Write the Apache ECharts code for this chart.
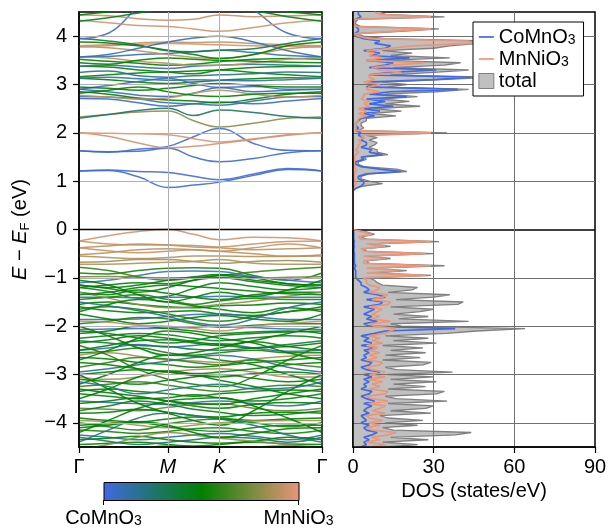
<!DOCTYPE html>
<html>
<head>
<meta charset="utf-8">
<script src="https://cdn.jsdelivr.net/npm/echarts@6/dist/echarts.min.js"></script>
<style>
html, body { margin: 0; padding: 0; background: #fff; }
#chart { width: 610px; height: 529px; }
</style>
</head>
<body>
<div id="chart"></div>
<script>
// k-path Γ–M–K–Γ of the hexagonal Brillouin zone (cumulative path length)
const kPath = [0, 0.19, 0.385, 0.577, 0.744, 0.911, 1.133, 1.355, 1.577];
const kTicks = [0, 0.577, 0.911, 1.577];
const kLabels = ['Γ', 'M', 'K', 'Γ'];
const energyTicks = [-4, -3, -2, -1, 0, 1, 2, 3, 4];
const dosTicks = [0, 30, 60, 90];

// projection weight of each band: 0 = CoMnO3 layer, 1 = MnNiO3 layer
const bandWeights = [
  0.02, 0.02, 0.03, 0.03, 0.97, 0.95, 0.8, 0.28, 0.08, 0.1,
  0.5, 0.1, 0.9, 0.5, 0.5, 0.12, 0.08, 0.48, 0.5, 0.15,
  0.5, 0.1, 0.9, 0.9, 0.95, 0.92, 0.5, 0.35, 0.05, 0.1,
  0.95, 0.92, 0.5, 0.45,
  0.95, 0.93, 0.9, 0.92, 0.9, 0.88, 0.85, 0.88, 0.55, 0.05,
  0.75, 0.6, 0.5, 0.45,
  0.5, 0.45, 0.1, 0.5, 0.55, 0.5, 0.8, 0.5, 0.1, 0.05,
  0.5, 0.55, 0.5, 0.45, 0.1, 0.5, 0.55, 0.85, 0.5, 0.2,
  0.5, 0.85, 0.5, 0.6, 0.5, 0.45, 0.15, 0.5, 0.7, 0.5,
  0.5, 0.85, 0.45, 0.55, 0.2, 0.5, 0.5, 0.6,
  0.5, 0.5, 0.45, 0.55, 0.5, 0.5, 0.25, 0.5, 0.8, 0.5,
  0.35, 0.5, 0.9, 0.2,
  0.5, 0.55, 0.45, 0.5, 0.5, 0.6, 0.5, 0.45, 0.55, 0.3,
  0.5, 0.2, 0.5, 0.2, 0.5
];

// band energies (eV) at the kPath points
const bandEnergies = [
  [1.21, 1.22, 1.09, 0.87, 0.92, 0.98, 1.12, 1.24, 1.21],
  [1.21, 1.23, 1.20, 1.18, 1.10, 1.03, 1.15, 1.26, 1.21],
  [1.63, 1.60, 1.66, 1.72, 1.92, 2.09, 1.78, 1.64, 1.63],
  [1.63, 1.61, 1.62, 1.68, 1.50, 1.40, 1.47, 1.59, 1.63],
  [2.00, 1.99, 1.98, 1.96, 1.88, 1.81, 1.88, 1.96, 2.00],
  [2.00, 1.93, 1.79, 1.69, 1.72, 1.78, 1.86, 1.95, 2.00],
  [2.33, 2.38, 2.43, 2.45, 2.25, 2.12, 2.20, 2.30, 2.33],
  [2.30, 2.38, 2.46, 2.51, 2.36, 2.47, 2.42, 2.34, 2.30],
  [2.71, 2.70, 2.62, 2.55, 2.60, 2.64, 2.60, 2.66, 2.71],
  [2.75, 2.74, 2.70, 2.62, 2.60, 2.57, 2.66, 2.74, 2.75],
  [2.85, 2.80, 2.72, 2.68, 2.66, 2.62, 2.70, 2.80, 2.85],
  [2.90, 2.85, 2.78, 2.75, 2.82, 2.94, 2.85, 2.88, 2.90],
  [2.78, 2.74, 2.70, 2.72, 2.82, 2.88, 2.80, 2.74, 2.78],
  [2.82, 2.88, 2.95, 2.85, 2.78, 2.75, 2.80, 2.82, 2.82],
  [3.13, 3.10, 3.05, 3.02, 3.05, 3.09, 3.12, 3.14, 3.13],
  [3.13, 3.15, 3.12, 3.09, 3.10, 3.09, 3.08, 3.10, 3.13],
  [2.90, 2.98, 3.06, 3.13, 3.02, 2.94, 2.96, 2.90, 2.90],
  [3.16, 3.20, 3.24, 3.26, 3.28, 3.30, 3.25, 3.20, 3.16],
  [3.38, 3.36, 3.30, 3.26, 3.22, 3.30, 3.35, 3.37, 3.38],
  [3.38, 3.40, 3.36, 3.33, 3.38, 3.40, 3.42, 3.40, 3.38],
  [3.52, 3.48, 3.44, 3.40, 3.42, 3.47, 3.52, 3.54, 3.52],
  [3.57, 3.58, 3.62, 3.64, 3.68, 3.71, 3.66, 3.60, 3.57],
  [3.57, 3.55, 3.48, 3.44, 3.40, 3.40, 3.45, 3.52, 3.57],
  [3.78, 3.76, 3.70, 3.62, 3.56, 3.54, 3.62, 3.74, 3.78],
  [3.78, 3.80, 3.83, 3.85, 3.84, 3.82, 3.80, 3.79, 3.78],
  [3.80, 3.82, 3.86, 3.88, 3.87, 3.88, 3.85, 3.82, 3.80],
  [3.88, 3.86, 3.80, 3.71, 3.62, 3.54, 3.62, 3.80, 3.88],
  [3.95, 3.90, 3.82, 3.70, 3.68, 3.71, 3.74, 3.85, 3.95],
  [3.95, 4.06, 4.60, 5.00, 5.00, 5.00, 4.55, 4.06, 3.95],
  [3.57, 3.62, 3.75, 3.88, 3.96, 4.00, 3.88, 3.70, 3.57],
  [4.33, 4.28, 4.22, 4.20, 4.15, 4.10, 4.18, 4.28, 4.33],
  [4.44, 4.42, 4.36, 4.33, 4.35, 4.44, 4.40, 4.42, 4.44],
  [4.44, 4.50, 4.55, 4.60, 4.60, 4.60, 4.55, 4.50, 4.44],
  [4.31, 4.38, 4.48, 4.55, 4.55, 4.55, 4.52, 4.40, 4.31],
  [-0.24, -0.13, -0.04, 0.00, -0.10, -0.21, -0.16, -0.17, -0.24],
  [-0.24, -0.30, -0.32, -0.32, -0.33, -0.36, -0.30, -0.25, -0.24],
  [-0.38, -0.34, -0.30, -0.32, -0.36, -0.38, -0.42, -0.40, -0.38],
  [-0.38, -0.44, -0.48, -0.45, -0.42, -0.45, -0.38, -0.30, -0.38],
  [-0.52, -0.48, -0.42, -0.40, -0.42, -0.45, -0.50, -0.55, -0.52],
  [-0.55, -0.58, -0.60, -0.58, -0.55, -0.55, -0.56, -0.56, -0.55],
  [-0.68, -0.66, -0.62, -0.62, -0.66, -0.70, -0.66, -0.64, -0.68],
  [-0.72, -0.72, -0.70, -0.68, -0.66, -0.62, -0.70, -0.72, -0.72],
  [-0.90, -0.92, -0.85, -0.80, -0.79, -0.80, -0.95, -1.05, -0.90],
  [-1.10, -1.05, -0.95, -0.87, -0.86, -0.87, -0.98, -1.05, -1.10],
  [-0.98, -0.97, -0.99, -1.00, -1.00, -1.00, -1.01, -0.99, -0.98],
  [-0.78, -0.85, -0.98, -1.05, -1.00, -0.95, -0.88, -0.82, -0.78],
  [-1.15, -1.20, -1.15, -1.05, -0.98, -0.93, -1.00, -1.12, -1.15],
  [-1.20, -1.15, -1.10, -1.12, -1.05, -1.00, -1.08, -1.16, -1.20],
  [-1.15, -1.22, -1.30, -1.20, -1.05, -0.95, -1.05, -1.12, -1.15],
  [-1.20, -1.28, -1.42, -1.38, -1.22, -1.10, -1.18, -1.25, -1.20],
  [-1.40, -1.40, -1.41, -1.40, -1.40, -1.38, -1.39, -1.40, -1.40],
  [-1.30, -1.35, -1.25, -1.32, -1.40, -1.45, -1.35, -1.30, -1.30],
  [-1.45, -1.40, -1.35, -1.45, -1.55, -1.48, -1.42, -1.45, -1.45],
  [-1.55, -1.50, -1.55, -1.60, -1.62, -1.58, -1.56, -1.52, -1.55],
  [-1.30, -1.42, -1.55, -1.62, -1.60, -1.55, -1.48, -1.38, -1.30],
  [-1.60, -1.68, -1.72, -1.70, -1.68, -1.75, -1.78, -1.70, -1.60],
  [-1.86, -1.86, -1.85, -1.80, -1.76, -1.75, -1.80, -1.86, -1.86],
  [-2.07, -2.06, -2.05, -2.04, -2.02, -2.00, -2.03, -2.06, -2.07],
  [-1.75, -1.85, -1.95, -1.90, -1.82, -1.78, -1.85, -1.90, -1.75],
  [-1.95, -1.90, -1.82, -1.85, -1.95, -2.02, -1.98, -1.95, -1.95],
  [-2.15, -2.10, -2.00, -2.05, -2.10, -2.15, -2.12, -2.10, -2.15],
  [-2.25, -2.20, -2.15, -2.18, -2.25, -2.30, -2.24, -2.20, -2.25],
  [-2.50, -2.45, -2.38, -2.43, -2.40, -2.36, -2.45, -2.52, -2.50],
  [-2.50, -2.40, -2.30, -2.28, -2.35, -2.40, -2.32, -2.42, -2.50],
  [-2.55, -2.52, -2.45, -2.55, -2.60, -2.55, -2.50, -2.55, -2.55],
  [-2.60, -2.55, -2.62, -2.70, -2.72, -2.75, -2.68, -2.62, -2.60],
  [-2.65, -2.68, -2.75, -2.80, -2.85, -2.82, -2.75, -2.70, -2.65],
  [-2.95, -2.88, -2.80, -2.72, -2.65, -2.60, -2.68, -2.85, -2.95],
  [-3.00, -2.95, -2.90, -2.95, -3.02, -3.05, -2.98, -2.95, -3.00],
  [-3.05, -3.10, -3.05, -2.95, -2.90, -2.88, -2.95, -3.05, -3.05],
  [-3.10, -3.15, -3.20, -3.12, -3.05, -3.00, -3.08, -3.15, -3.10],
  [-3.25, -3.20, -3.15, -3.22, -3.30, -3.35, -3.28, -3.22, -3.25],
  [-3.35, -3.30, -3.35, -3.40, -3.45, -3.40, -3.35, -3.32, -3.35],
  [-3.40, -3.45, -3.50, -3.48, -3.42, -3.48, -3.55, -3.50, -3.40],
  [-3.55, -3.58, -3.60, -3.62, -3.58, -3.55, -3.60, -3.65, -3.55],
  [-3.60, -3.55, -3.48, -3.55, -3.65, -3.70, -3.62, -3.58, -3.60],
  [-3.70, -3.72, -3.75, -3.68, -3.62, -3.60, -3.70, -3.75, -3.70],
  [-3.80, -3.78, -3.72, -3.78, -3.85, -3.88, -3.80, -3.78, -3.80],
  [-3.90, -3.95, -3.98, -3.92, -3.88, -3.90, -3.95, -3.92, -3.90],
  [-3.95, -3.98, -4.05, -4.10, -4.05, -4.00, -3.96, -3.95, -3.95],
  [-4.05, -4.02, -4.00, -4.08, -4.15, -4.18, -4.10, -4.05, -4.05],
  [-4.15, -4.18, -4.22, -4.18, -4.12, -4.10, -4.18, -4.22, -4.15],
  [-4.25, -4.30, -4.35, -4.30, -4.25, -4.22, -4.28, -4.35, -4.25],
  [-4.35, -4.32, -4.28, -4.35, -4.40, -4.42, -4.38, -4.30, -4.35],
  [-4.45, -4.42, -4.40, -4.45, -4.48, -4.45, -4.40, -4.44, -4.45],
  [-4.50, -4.55, -4.52, -4.48, -4.50, -4.55, -4.50, -4.48, -4.50],
  [-2.70, -2.50, -2.25, -2.10, -2.15, -2.25, -2.35, -2.55, -2.70],
  [-2.00, -2.20, -2.45, -2.60, -2.55, -2.45, -2.30, -2.15, -2.00],
  [-3.20, -3.00, -2.75, -2.60, -2.62, -2.70, -2.80, -3.00, -3.20],
  [-2.40, -2.60, -2.90, -3.10, -3.20, -3.25, -3.05, -2.70, -2.40],
  [-3.50, -3.30, -3.05, -2.92, -3.00, -3.12, -3.25, -3.40, -3.50],
  [-4.20, -3.95, -3.70, -3.55, -3.50, -3.48, -3.65, -3.90, -4.20],
  [-4.40, -4.15, -3.90, -3.80, -3.85, -3.92, -4.05, -4.25, -4.40],
  [-3.00, -3.30, -3.60, -3.80, -3.95, -4.05, -3.75, -3.35, -3.00],
  [-4.55, -4.45, -4.30, -4.20, -4.25, -4.32, -4.38, -4.45, -4.55],
  [-1.70, -1.55, -1.45, -1.50, -1.58, -1.65, -1.72, -1.62, -1.70],
  [-2.30, -2.35, -2.40, -2.42, -2.48, -2.50, -2.45, -2.38, -2.30],
  [-1.05, -1.15, -1.35, -1.50, -1.40, -1.30, -1.38, -1.25, -1.05],
  [-1.90, -1.92, -1.98, -2.00, -2.05, -2.10, -2.00, -1.94, -1.90],
  [-3.15, -3.25, -3.40, -3.32, -3.25, -3.20, -3.30, -3.28, -3.15],
  [-1.35, -1.30, -1.20, -1.15, -1.18, -1.22, -1.28, -1.33, -1.35],
  [-1.65, -1.60, -1.65, -1.75, -1.85, -1.90, -1.80, -1.70, -1.65],
  [-2.10, -2.15, -2.25, -2.35, -2.30, -2.20, -2.15, -2.12, -2.10],
  [-2.35, -2.28, -2.20, -2.25, -2.32, -2.38, -2.45, -2.42, -2.35],
  [-2.75, -2.80, -2.88, -2.95, -2.98, -2.95, -2.88, -2.80, -2.75],
  [-2.85, -2.75, -2.65, -2.68, -2.75, -2.80, -2.70, -2.78, -2.85],
  [-3.30, -3.38, -3.45, -3.55, -3.60, -3.62, -3.50, -3.40, -3.30],
  [-3.75, -3.65, -3.55, -3.62, -3.72, -3.78, -3.85, -3.82, -3.75],
  [-4.00, -4.08, -4.15, -4.02, -3.95, -3.92, -4.00, -4.08, -4.00],
  [-4.30, -4.38, -4.45, -4.40, -4.35, -4.30, -4.32, -4.40, -4.30],
  [-4.10, -4.05, -3.98, -4.05, -4.20, -4.30, -4.22, -4.12, -4.10],
  [-1.50, -1.58, -1.68, -1.80, -1.92, -1.98, -1.85, -1.62, -1.50],
  [2.95, 2.92, 2.88, 2.92, 2.98, 3.02, 2.98, 2.95, 2.95],
  [3.25, 3.28, 3.18, 3.15, 3.18, 3.20, 3.22, 3.26, 3.25],
  [3.45, 3.42, 3.50, 3.55, 3.52, 3.50, 3.48, 3.46, 3.45]
];

// density of states (states/eV) on an energy grid from -4.5 eV in 0.05 eV steps
const dosEnergyStart = -4.5;
const dosEnergyStep = 0.05;
const dosTotal = [
  12, 24, 11, 28, 14, 38, 44, 15, 11, 24,
  12, 26, 13, 10, 29, 14, 27, 30, 13, 35,
  16, 12, 31, 34, 13, 27, 15, 31, 14, 30,
  13, 37, 16, 12, 26, 29, 11, 25, 12, 27,
  14, 26, 11, 31, 15, 28, 12, 35, 46, 64,
  18, 14, 43, 17, 28, 15, 25, 30, 14, 39,
  41, 16, 30, 36, 13, 22, 24, 11, 9, 8,
  6, 29, 8, 20, 7, 34, 6, 5, 14, 5,
  30, 5, 4, 14, 6, 32, 5, 3, 8, 5,
  0, 0, 0, 0, 0, 0, 0, 0, 0, 0,
  0, 0, 0, 0, 0, 0, 0, 1, 4, 11,
  6, 3, 3, 6, 20, 16, 4, 2, 2, 5,
  4, 13, 9, 9, 6, 8, 9, 6, 9, 5,
  35, 2, 4, 3, 3, 5, 5, 16, 7, 18,
  8, 25, 12, 21, 10, 24, 12, 31, 43, 13,
  20, 11, 33, 50, 14, 30, 43, 15, 34, 40,
  12, 36, 14, 22, 11, 30, 36, 47, 50, 12,
  4, 1, 18, 32, 3, 1, 1, 2, 34, 12,
  10
];
const dosCoMnO3 = [
  3, 5, 4, 6, 4, 7, 9, 5, 4, 6,
  3, 5, 4, 3, 6, 4, 5, 7, 4, 8,
  5, 3, 6, 7, 3, 5, 4, 6, 4, 7,
  4, 10, 5, 3, 6, 7, 3, 5, 4, 6,
  4, 9, 3, 7, 4, 6, 3, 8, 12, 38,
  6, 4, 9, 5, 7, 4, 6, 8, 4, 10,
  11, 5, 12, 9, 4, 6, 5, 3, 3, 2,
  1, 1, 1, 1, 0.5, 1, 0.5, 0.5, 0.5, 0.5,
  0.5, 0.3, 0.3, 0.5, 0.3, 0.5, 0.3, 0.2, 0.3, 0.2,
  0, 0, 0, 0, 0, 0, 0, 0, 0, 0,
  0, 0, 0, 0, 0, 0, 0, 1, 3, 4,
  4, 2, 2, 5, 18, 10, 3, 1, 1, 4,
  3, 11, 6, 7, 3, 5, 5, 3, 4, 2,
  3, 1, 2, 1, 1, 2, 3, 8, 4, 10,
  4, 15, 6, 12, 5, 20, 6, 14, 39, 5,
  8, 5, 30, 44, 6, 14, 31, 6, 12, 15,
  5, 21, 6, 10, 4, 12, 14, 8, 10, 4,
  1, 0.5, 2, 2, 1, 0.5, 0.5, 1, 3, 2,
  2
];
const dosMnNiO3 = [
  6, 12, 5, 10, 7, 13, 16, 7, 5, 10,
  6, 11, 6, 5, 12, 7, 10, 12, 6, 13,
  7, 5, 12, 13, 6, 10, 7, 11, 6, 12,
  6, 12, 7, 5, 10, 11, 5, 9, 6, 10,
  6, 9, 5, 11, 7, 10, 6, 12, 14, 16,
  8, 6, 14, 7, 10, 7, 9, 11, 6, 13,
  14, 7, 11, 13, 6, 9, 10, 6, 5, 5,
  4, 27, 5, 17, 5, 29, 4, 4, 12, 4,
  27, 4, 3, 12, 5, 29, 3, 2, 7, 4,
  0, 0, 0, 0, 0, 0, 0, 0, 0, 0,
  0, 0, 0, 0, 0, 0, 0, 0, 0.5, 1,
  1, 0.5, 0.5, 0.5, 1, 1, 0.5, 0.5, 0.5, 0.5,
  0.5, 1, 2, 1, 2, 2, 3, 2, 4, 3,
  29, 1, 1, 1, 1, 2, 2, 5, 2, 5,
  2, 6, 4, 6, 3, 4, 4, 10, 5, 6,
  10, 4, 8, 6, 6, 18, 10, 7, 15, 27,
  5, 11, 6, 8, 5, 14, 22, 44, 43, 6,
  2, 0.5, 14, 29, 1, 0.5, 0.5, 1, 29, 10,
  8
];

const colorbarEnds = ['CoMnO{sub|3}', 'MnNiO{sub|3}'];

// ---- styling ----
const FONT = '"Liberation Sans", Arial, Helvetica, sans-serif';
const CO_COLOR = '#4169e1';
const MN_COLOR = '#e9967a';
const MID_COLOR = '#008000';
const cmapStops = [[65, 105, 225], [0, 128, 0], [233, 150, 122]];

function bandColor(w) {
  const lo = w < 0.5 ? cmapStops[0] : cmapStops[1];
  const hi = w < 0.5 ? cmapStops[1] : cmapStops[2];
  const t = w < 0.5 ? w * 2 : (w - 0.5) * 2;
  const c = lo.map((v, i) => Math.round(v + (hi[i] - v) * t));
  return 'rgb(' + c.join(',') + ')';
}

const dosEnergy = dosTotal.map((_, i) => +(dosEnergyStart + i * dosEnergyStep).toFixed(2));
const minus = v => (v < 0 ? '\u2212' + Math.abs(v) : String(v));

const subRich = {
  sub: { fontSize: 14, lineHeight: 12, verticalAlign: 'bottom', fontFamily: FONT, color: '#000' }
};

// ---- series ----
const series = [];

// band-panel reference lines
series.push({
  type: 'line', xAxisIndex: 0, yAxisIndex: 0, data: [], z: 1, silent: true,
  markLine: {
    silent: true, symbol: ['none', 'none'], label: { show: false }, animation: false,
    data: energyTicks.map(e => ({
      yAxis: e,
      lineStyle: { color: e === 0 ? '#000' : '#b0b0b0', width: e === 0 ? 1.3 : 1, type: 'solid' }
    })).concat(kTicks.slice(1, 3).map(k => ({
      xAxis: k, lineStyle: { color: '#b0b0b0', width: 1, type: 'solid' }
    })))
  }
});

bandEnergies.forEach((band, b) => {
  series.push({
    type: 'line', xAxisIndex: 0, yAxisIndex: 0, z: 2, silent: true,
    smooth: 0.45, symbol: 'none',
    lineStyle: { color: bandColor(bandWeights[b]), width: 1.5, opacity: 0.9 },
    data: kPath.map((k, j) => [k, band[j]])
  });
});

// total DOS shaded area, closed against DOS = 0
series.push({
  name: 'total', type: 'custom', xAxisIndex: 1, yAxisIndex: 1, z: 1, silent: true,
  encode: { x: 0, y: 1 },
  data: dosTotal.map((d, i) => [d, dosEnergy[i]]),
  itemStyle: { color: '#c0c0c0' },
  renderItem: function (params, api) {
    if (params.dataIndex !== 0) return;
    const pts = [api.coord([0, dosEnergy[0]])];
    for (let i = 0; i < dosTotal.length; i++) pts.push(api.coord([dosTotal[i], dosEnergy[i]]));
    pts.push(api.coord([0, dosEnergy[dosEnergy.length - 1]]));
    return { type: 'polygon', shape: { points: pts }, style: { fill: '#c0c0c0' } };
  }
});

// DOS-panel reference lines
series.push({
  type: 'line', xAxisIndex: 1, yAxisIndex: 1, data: [], z: 2, silent: true,
  markLine: {
    silent: true, symbol: ['none', 'none'], label: { show: false }, animation: false,
    data: energyTicks.map(e => ({
      yAxis: e,
      lineStyle: { color: e === 0 ? '#000' : '#707070', width: e === 0 ? 1.5 : 1, type: 'solid' }
    })).concat(dosTicks.slice(1, 3).map(d => ({
      xAxis: d, lineStyle: { color: '#707070', width: 1, type: 'solid' }
    })))
  }
});

series.push({
  type: 'line', xAxisIndex: 1, yAxisIndex: 1, z: 3, silent: true, symbol: 'none',
  lineStyle: { color: '#808080', width: 1.3 },
  data: dosTotal.map((d, i) => [d, dosEnergy[i]])
});
series.push({
  name: 'CoMnO3', type: 'line', xAxisIndex: 1, yAxisIndex: 1, z: 4, silent: true, symbol: 'none',
  color: CO_COLOR,
  lineStyle: { color: CO_COLOR, width: 1.7 },
  data: dosCoMnO3.map((d, i) => [d, dosEnergy[i]])
});
series.push({
  name: 'MnNiO3', type: 'line', xAxisIndex: 1, yAxisIndex: 1, z: 5, silent: true, symbol: 'none',
  color: MN_COLOR,
  lineStyle: { color: MN_COLOR, width: 1.7 },
  data: dosMnNiO3.map((d, i) => [d, dosEnergy[i]])
});

const tickStyle = { color: '#000', width: 1.2 };
const frameLine = { show: true, onZero: false, lineStyle: { color: '#000', width: 1.5 } };
const labelBase = { color: '#000', fontSize: 20, fontFamily: FONT };

const option = {
  animation: false,
  backgroundColor: '#fff',
  textStyle: { fontFamily: FONT },
  grid: [
    { left: 79, top: 12, width: 243, height: 435, show: true, borderColor: '#000', borderWidth: 1.5, backgroundColor: 'transparent' },
    { left: 353, top: 12, width: 242, height: 435, show: true, borderColor: '#000', borderWidth: 1.5, backgroundColor: 'transparent' }
  ],
  xAxis: [
    {
      type: 'value', gridIndex: 0, min: 0, max: kTicks[kTicks.length - 1], z: 10,
      axisLine: frameLine,
      axisTick: { show: true, customValues: kTicks, length: 6, lineStyle: tickStyle },
      axisLabel: Object.assign({}, labelBase, {
        customValues: kTicks, margin: 10,
        formatter: function (v) {
          const i = kTicks.findIndex(t => Math.abs(t - v) < 1e-6);
          const s = kLabels[i];
          return s === 'Γ' ? s : '{it|' + s + '}';
        },
        rich: { it: { fontStyle: 'italic', fontSize: 20, fontFamily: FONT, color: '#000' } }
      }),
      splitLine: { show: false }
    },
    {
      type: 'value', gridIndex: 1, min: 0, max: 90, interval: 30, z: 10,
      axisLine: frameLine,
      axisTick: { show: true, length: 6, lineStyle: tickStyle },
      axisLabel: Object.assign({}, labelBase, { margin: 10 }),
      splitLine: { show: false },
      name: 'DOS (states/eV)', nameLocation: 'middle', nameGap: 34,
      nameTextStyle: { color: '#000', fontSize: 20, fontFamily: FONT }
    }
  ],
  yAxis: [
    {
      type: 'value', gridIndex: 0, min: -4.5, max: 4.5, z: 10,
      axisLine: frameLine,
      axisTick: { show: true, customValues: energyTicks, length: 6, lineStyle: tickStyle },
      axisLabel: Object.assign({}, labelBase, { customValues: energyTicks, margin: 12, formatter: minus }),
      splitLine: { show: false },
      name: '{i|E} \u2212 {i|E}{s|F} (eV)', nameLocation: 'middle', nameGap: 47, nameRotate: 90,
      nameTextStyle: {
        color: '#000', fontSize: 20, fontFamily: FONT, lineHeight: 24,
        rich: {
          i: { fontStyle: 'italic', fontSize: 20, fontFamily: FONT, color: '#000', lineHeight: 24 },
          s: { fontSize: 13, fontFamily: FONT, color: '#000', lineHeight: 12, verticalAlign: 'bottom' }
        }
      }
    },
    {
      type: 'value', gridIndex: 1, min: -4.5, max: 4.5, z: 10,
      axisLine: frameLine, axisTick: { show: false }, axisLabel: { show: false },
      splitLine: { show: false }
    }
  ],
  legend: {
    orient: 'vertical', left: 473, top: 22, z: 20,
    padding: [5, 8, 5, 5], itemGap: 2, itemWidth: 15, itemHeight: 15,
    backgroundColor: '#fff', borderColor: '#000', borderWidth: 1, borderRadius: 0,
    selectedMode: false,
    textStyle: { color: '#000', fontSize: 20, fontFamily: FONT, lineHeight: 20, rich: subRich },
    formatter: function (name) { return name === 'total' ? name : name.slice(0, -1) + '{sub|3}'; },
    data: [
      { name: 'CoMnO3', itemStyle: { opacity: 0 }, lineStyle: { color: CO_COLOR, width: 1.7, opacity: 1 } },
      { name: 'MnNiO3', itemStyle: { opacity: 0 }, lineStyle: { color: MN_COLOR, width: 1.7, opacity: 1 } },
      { name: 'total', icon: 'rect', itemStyle: { color: '#c0c0c0', borderColor: '#808080', borderWidth: 1, opacity: 1 } }
    ]
  },
  graphic: [
    {
      type: 'rect', left: 103.5, top: 482, z: 10,
      shape: { width: 195, height: 18 },
      style: {
        stroke: '#000', lineWidth: 1,
        fill: new echarts.graphic.LinearGradient(0, 0, 1, 0, [
          { offset: 0, color: CO_COLOR },
          { offset: 0.5, color: MID_COLOR },
          { offset: 1, color: MN_COLOR }
        ])
      }
    },
    { type: 'line', z: 10, shape: { x1: 103.5, y1: 500, x2: 103.5, y2: 505 }, style: { stroke: '#000', lineWidth: 1 } },
    { type: 'line', z: 10, shape: { x1: 298.5, y1: 500, x2: 298.5, y2: 505 }, style: { stroke: '#000', lineWidth: 1 } },
    {
      type: 'text', x: 103.5, y: 508, z: 10,
      style: { text: colorbarEnds[0], align: 'center', verticalAlign: 'top', fill: '#000', fontSize: 20, fontFamily: FONT, lineHeight: 20, rich: subRich }
    },
    {
      type: 'text', x: 298.5, y: 508, z: 10,
      style: { text: colorbarEnds[1], align: 'center', verticalAlign: 'top', fill: '#000', fontSize: 20, fontFamily: FONT, lineHeight: 20, rich: subRich }
    }
  ],
  series: series
};

const chart = echarts.init(document.getElementById('chart'), null, { renderer: 'canvas' });
chart.setOption(option);
</script>
</body>
</html>
